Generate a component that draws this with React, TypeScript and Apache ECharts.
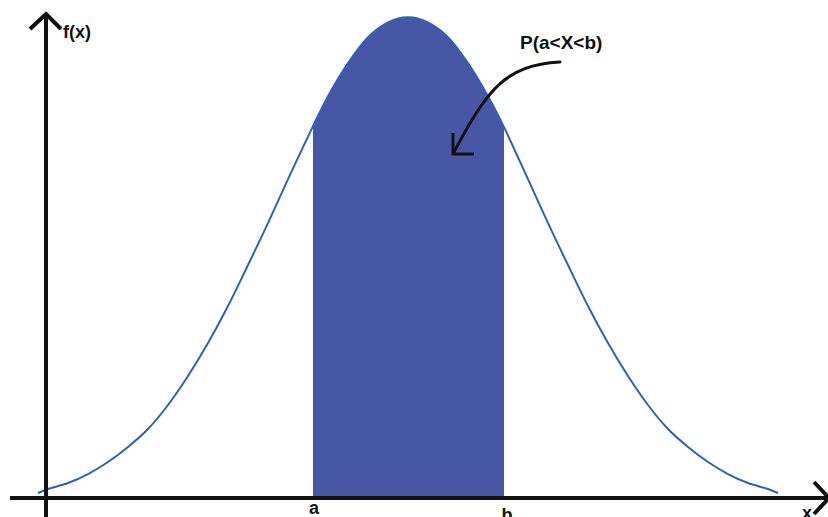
import React, { useEffect, useRef } from "react";
import * as echarts from "echarts";

// Standardised x positions (z) along the bell curve and the density read at each
const curveX = [
  -2.775, -2.7, -2.55, -2.4, -2.25, -2.1, -1.95, -1.8, -1.65, -1.5, -1.35,
  -1.2, -1.05, -0.9, -0.7125, -0.6, -0.45, -0.3, -0.15, 0, 0.15, 0.3, 0.45,
  0.6, 0.72, 0.9, 1.05, 1.2, 1.35, 1.5, 1.65, 1.8, 1.95, 2.1, 2.25, 2.4,
  2.55, 2.7, 2.775,
];
const curveF = [
  0.0033, 0.0067, 0.0116, 0.0191, 0.0291, 0.0416, 0.0565, 0.0765, 0.1006,
  0.128, 0.1588, 0.1929, 0.2278, 0.2643, 0.3084, 0.3333, 0.3608, 0.3824,
  0.3948, 0.399, 0.3948, 0.3824, 0.3608, 0.3333, 0.3076, 0.2643, 0.2278,
  0.1929, 0.1588, 0.128, 0.1006, 0.0765, 0.0565, 0.0416, 0.0291, 0.0191,
  0.0116, 0.0067, 0.0033,
];

// Interval bounds a and b
const lowerBound = -0.7125;
const upperBound = 0.72;

const boundLabels = ["a", "b"];
const xAxisName = "x";
const yAxisName = "f(x)";
const probabilityLabel = "P(a<X<b)";

const FONT = "'Liberation Sans', Arial, sans-serif";
const INK = "#111111";

export default function App() {
  const ref = useRef<HTMLDivElement>(null);

  useEffect(() => {
    const chart = echarts.init(ref.current!, null, { renderer: "svg" });
    const curve = curveX.map((x, i) => [x, curveF[i]]);
    const shaded = curve.filter(
      ([x]) => x >= lowerBound - 1e-9 && x <= upperBound + 1e-9
    );

    chart.setOption({
      animation: false,
      grid: { left: 8, right: 0, top: 4, bottom: 20 },
      xAxis: { type: "value", min: -3, max: 3.15, show: false },
      yAxis: { type: "value", min: 0, max: 0.41, show: false },
      series: [
        {
          type: "line",
          data: shaded,
          smooth: 0.3,
          showSymbol: false,
          lineStyle: { width: 0 },
          areaStyle: { color: "#4856a6", opacity: 1 },
          z: 2,
        },
        {
          type: "line",
          data: curve,
          smooth: 0.3,
          showSymbol: false,
          clip: false,
          lineStyle: { color: "#2f62b4", width: 2 },
          z: 3,
        },
      ],
    });

    const [ax] = chart.convertToPixel({ gridIndex: 0 }, [lowerBound, 0]);
    const [bx] = chart.convertToPixel({ gridIndex: 0 }, [upperBound, 0]);

    const textStyle = (text: string, size: number) => ({
      text,
      fill: INK,
      fontFamily: FONT,
      fontWeight: "bold",
      fontSize: size,
    });

    chart.setOption({
      graphic: [
        // vertical axis with open arrowhead
        {
          type: "line",
          z: 100,
          shape: { x1: 46, y1: 517, x2: 46, y2: 15 },
          style: { stroke: INK, lineWidth: 4 },
        },
        {
          type: "polyline",
          z: 100,
          shape: { points: [[30, 29], [46, 14], [61, 29]] },
          style: { stroke: INK, lineWidth: 4, fill: "none" },
        },
        // horizontal axis with open arrowhead
        {
          type: "line",
          z: 100,
          shape: { x1: 10, y1: 498, x2: 827, y2: 498 },
          style: { stroke: INK, lineWidth: 4 },
        },
        {
          type: "polyline",
          z: 100,
          shape: { points: [[814, 482], [829, 498], [814, 514]] },
          style: { stroke: INK, lineWidth: 4, fill: "none" },
        },
        {
          type: "text",
          z: 100,
          x: 63,
          y: 32,
          style: { ...textStyle(yAxisName, 18), align: "left", verticalAlign: "middle" },
        },
        {
          type: "text",
          z: 100,
          x: 807,
          y: 513,
          style: { ...textStyle(xAxisName, 18), align: "center", verticalAlign: "middle" },
        },
        {
          type: "text",
          z: 100,
          x: ax + 1,
          y: 508,
          style: { ...textStyle(boundLabels[0], 18), align: "center", verticalAlign: "middle" },
        },
        {
          type: "text",
          z: 100,
          x: bx + 3,
          y: 515,
          style: { ...textStyle(boundLabels[1], 18), align: "center", verticalAlign: "middle" },
        },
        // probability annotation and its curved pointer
        {
          type: "text",
          z: 100,
          x: 520,
          y: 42,
          style: { ...textStyle(probabilityLabel, 19), align: "left", verticalAlign: "middle" },
        },
        {
          type: "bezierCurve",
          z: 100,
          shape: {
            x1: 560, y1: 62,
            cpx1: 505, cpy1: 65,
            cpx2: 487, cpy2: 90,
            x2: 454, y2: 152,
          },
          style: { stroke: INK, lineWidth: 3, fill: "none", lineCap: "round" },
        },
        {
          type: "polyline",
          z: 100,
          shape: { points: [[453, 133], [453, 154], [474, 154]] },
          style: { stroke: INK, lineWidth: 3, fill: "none" },
        },
      ],
    });

    return () => chart.dispose();
  }, []);

  return (
    <div
      ref={ref}
      style={{ position: "fixed", left: 0, top: 0, width: 828, height: 517, background: "#ffffff" }}
    />
  );
}
